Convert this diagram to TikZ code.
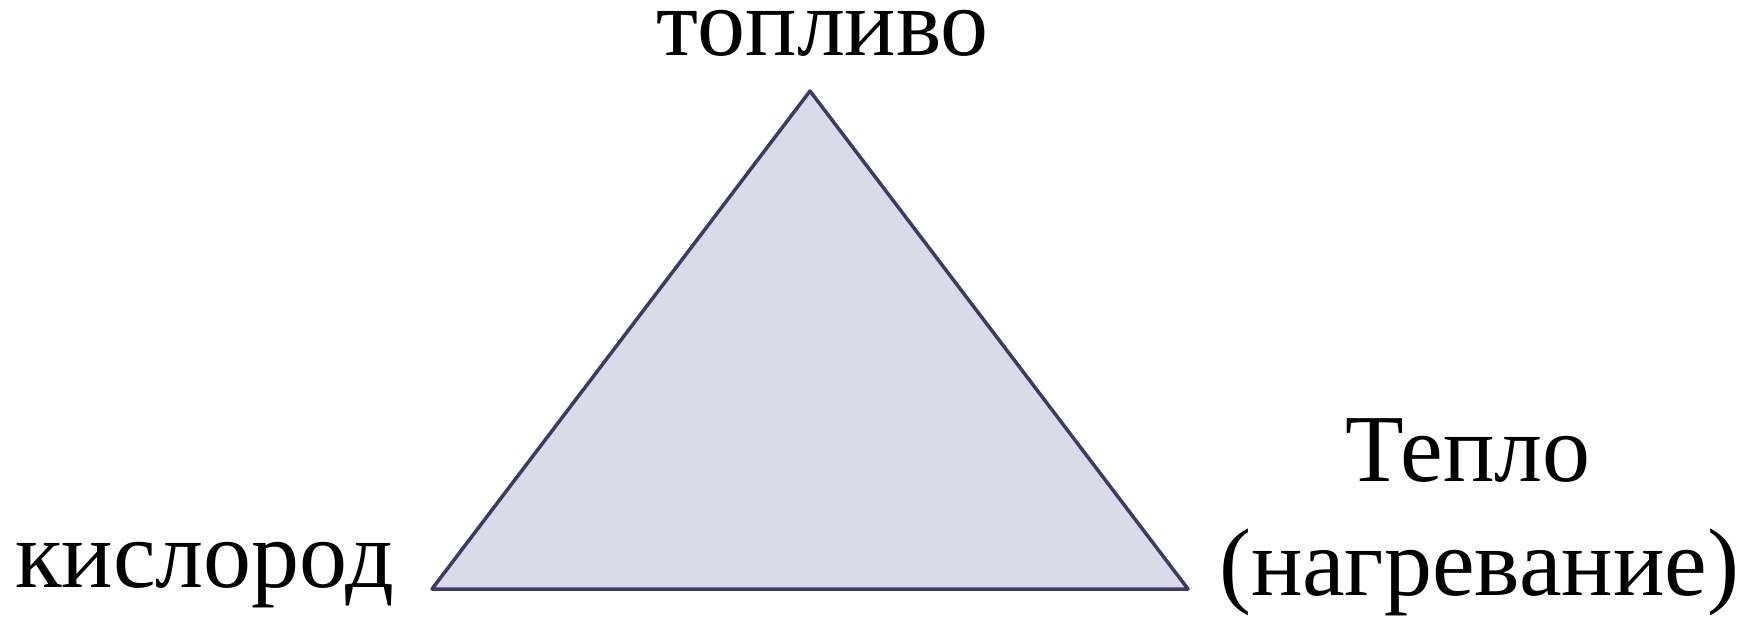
\documentclass[tikz,border=0pt]{standalone}
\usepackage{fontspec}
\setmainfont{Liberation Serif}
\usepackage{xcolor}
\usetikzlibrary{positioning,calc}

\definecolor{triline}{HTML}{3B3B63}
\definecolor{trifill}{HTML}{DADAE8}

\tikzset{
    bigtext/.style={inner sep=0pt, font=\fontsize{96}{114}\selectfont}
}

\begin{document}
\begin{tikzpicture}[x=1pt, y=-1pt]
    \useasboundingbox (0,0) rectangle (1746,617);

    % corners of the triangle
    \coordinate (apex) at (810,91);
    \coordinate (left) at (432,589);
    \coordinate (right) at (1188,589);

    \filldraw[fill=trifill, draw=triline, line width=3.5pt, line join=round]
        (apex) -- (left) -- (right) -- cycle;

    % labels
    \node[bigtext, anchor=base] (fuel) at (823,56) {топливо};
    \node[bigtext, anchor=base west] (oxygen) at (15,587) {кислород};
    \node[bigtext, anchor=base] (heat) at (1468,481) {Тепло};
    \node[bigtext, anchor=base] (heating) at (1479,595) {(нагревание)};
\end{tikzpicture}
\end{document}
